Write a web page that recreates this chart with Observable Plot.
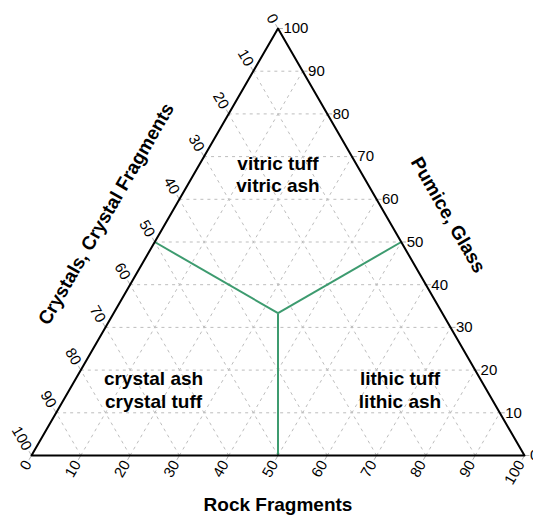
<!DOCTYPE html>
<html>
<head>
<meta charset="utf-8">
<script src="https://cdn.jsdelivr.net/npm/d3@7"></script>
<script src="https://cdn.jsdelivr.net/npm/@observablehq/plot@0.6"></script>
<style>
  html, body { margin: 0; padding: 0; background: #fff; }
  #chart svg { display: block; }
</style>
</head>
<body>
<div id="chart"></div>
<script>
// ---- data ----
const tickValues = [0, 10, 20, 30, 40, 50, 60, 70, 80, 90, 100];
const tickLabels = ["0", "10", "20", "30", "40", "50", "60", "70", "80", "90", "100"];
const gridValues = [10, 20, 30, 40, 50, 60, 70, 80, 90];

// region labels (composition: Crystals, Rock fragments, Pumice)
const regionNames = ["vitric tuff\nvitric ash", "crystal ash\ncrystal tuff", "lithic tuff\nlithic ash"];
const regionC = [17, 67.5, 17.5];
const regionR = [17, 17, 67];
const regionP = [66, 15.5, 15.5];

// classification boundaries: from edge points to the centre
const boundaryStartC = [50, 0, 50];
const boundaryStartR = [0, 50, 50];
const boundaryStartP = [50, 50, 0];
const boundaryEnd = [100 / 3, 100 / 3, 100 / 3];

// axis titles
const titleBottom = "Rock Fragments";
const titleLeft = "Crystals, Crystal Fragments";
const titleRight = "Pumice, Glass";

// ---- ternary helpers ----
const S = Math.sqrt(3) / 2;
const X = (c, r, p) => r + p / 2;
const Y = (c, r, p) => p * S;

const font = "'Liberation Sans', Arial, sans-serif";

// triangle outline
const outline = [[100, 0, 0], [0, 100, 0], [0, 0, 100], [100, 0, 0]]
  .map(([c, r, p]) => ({x: X(c, r, p), y: Y(c, r, p)}));

// grid lines
const grid = [];
for (const v of gridValues) {
  grid.push({x1: X(100 - v, 0, v), y1: Y(100 - v, 0, v), x2: X(0, 100 - v, v), y2: Y(0, 100 - v, v)}); // P = v
  grid.push({x1: X(100 - v, v, 0), y1: Y(100 - v, v, 0), x2: X(0, v, 100 - v), y2: Y(0, v, 100 - v)}); // R = v
  grid.push({x1: X(v, 100 - v, 0), y1: Y(v, 100 - v, 0), x2: X(v, 0, 100 - v), y2: Y(v, 0, 100 - v)}); // C = v
}

// ticks and labels
const tLen = 1.0, tLab = 1.45, tLabR = 1.1;
const ticks = [], bottomLab = [], leftLab = [], rightLab = [];
tickValues.forEach((v, i) => {
  // bottom: Rock fragments
  ticks.push({x1: X(100 - v, v, 0), y1: Y(100 - v, v, 0), x2: X(100 - v + tLen, v, -tLen), y2: Y(100 - v + tLen, v, -tLen)});
  bottomLab.push({x: X(100 - v + tLab, v, -tLab), y: Y(100 - v + tLab, v, -tLab), t: tickLabels[i]});
  // left: Crystals
  ticks.push({x1: X(v, 0, 100 - v), y1: Y(v, 0, 100 - v), x2: X(v, -tLen, 100 - v + tLen), y2: Y(v, -tLen, 100 - v + tLen)});
  leftLab.push({x: X(v, -tLab, 100 - v + tLab), y: Y(v, -tLab, 100 - v + tLab), t: tickLabels[i]});
  // right: Pumice
  ticks.push({x1: X(0, 100 - v, v), y1: Y(0, 100 - v, v), x2: X(-tLen, 100 - v + tLen, v), y2: Y(-tLen, 100 - v + tLen, v)});
  rightLab.push({x: X(-tLabR, 100 - v + tLabR, v), y: Y(-tLabR, 100 - v + tLabR, v), t: tickLabels[i]});
});

const regions = regionNames.map((n, i) => ({
  x: X(regionC[i], regionR[i], regionP[i]), y: Y(regionC[i], regionR[i], regionP[i]), t: n
}));

const boundaries = boundaryStartC.map((c, i) => ({
  x1: X(c, boundaryStartR[i], boundaryStartP[i]), y1: Y(c, boundaryStartR[i], boundaryStartP[i]),
  x2: X(...boundaryEnd), y2: Y(...boundaryEnd)
}));

const chart = Plot.plot({
  width: 533,
  height: 518,
  margin: 0,
  style: {fontFamily: font, background: "#fff"},
  x: {domain: [0, 100], range: [31, 524], axis: null},
  y: {domain: [0, 100 * S], range: [455, 28], axis: null},
  marks: [
    Plot.link(grid, {x1: "x1", y1: "y1", x2: "x2", y2: "y2", stroke: "#bdbdbd", strokeWidth: 1, strokeDasharray: "3,4"}),
    Plot.link(ticks, {x1: "x1", y1: "y1", x2: "x2", y2: "y2", stroke: "#b0b0b0", strokeWidth: 1}),
    Plot.link(boundaries, {x1: "x1", y1: "y1", x2: "x2", y2: "y2", stroke: "#3d9b6f", strokeWidth: 2}),
    Plot.line(outline, {x: "x", y: "y", stroke: "#000", strokeWidth: 2}),
    Plot.text(bottomLab, {x: "x", y: "y", text: "t", rotate: -60, textAnchor: "end", lineAnchor: "middle", fontSize: 15, fill: "#000"}),
    Plot.text(leftLab, {x: "x", y: "y", text: "t", rotate: 60, textAnchor: "end", lineAnchor: "middle", fontSize: 15, fill: "#000"}),
    Plot.text(rightLab, {x: "x", y: "y", text: "t", textAnchor: "start", lineAnchor: "middle", fontSize: 15, fill: "#000"}),
    Plot.text(regions, {x: "x", y: "y", text: "t", lineAnchor: "middle", lineHeight: 1.2, fontSize: 19, fontWeight: "bold", fill: "#000"}),
    Plot.text([titleBottom], {x: X(50, 50, 0), y: Y(50, 50, 0), text: d => d, dy: 49, lineAnchor: "middle", fontSize: 19, fontWeight: "bold", fill: "#000"}),
    Plot.text([titleLeft], {x: X(50, 0, 50), y: Y(50, 0, 50), text: d => d, dx: -48.5, dy: -28, rotate: -60, lineAnchor: "middle", fontSize: 19, fontWeight: "bold", fill: "#000"}),
    Plot.text([titleRight], {x: X(0, 50, 50), y: Y(0, 50, 50), text: d => d, dx: 46.8, dy: -27, rotate: 60, lineAnchor: "middle", fontSize: 19, fontWeight: "bold", fill: "#000"})
  ]
});
document.getElementById("chart").appendChild(chart);
</script>
</body>
</html>
